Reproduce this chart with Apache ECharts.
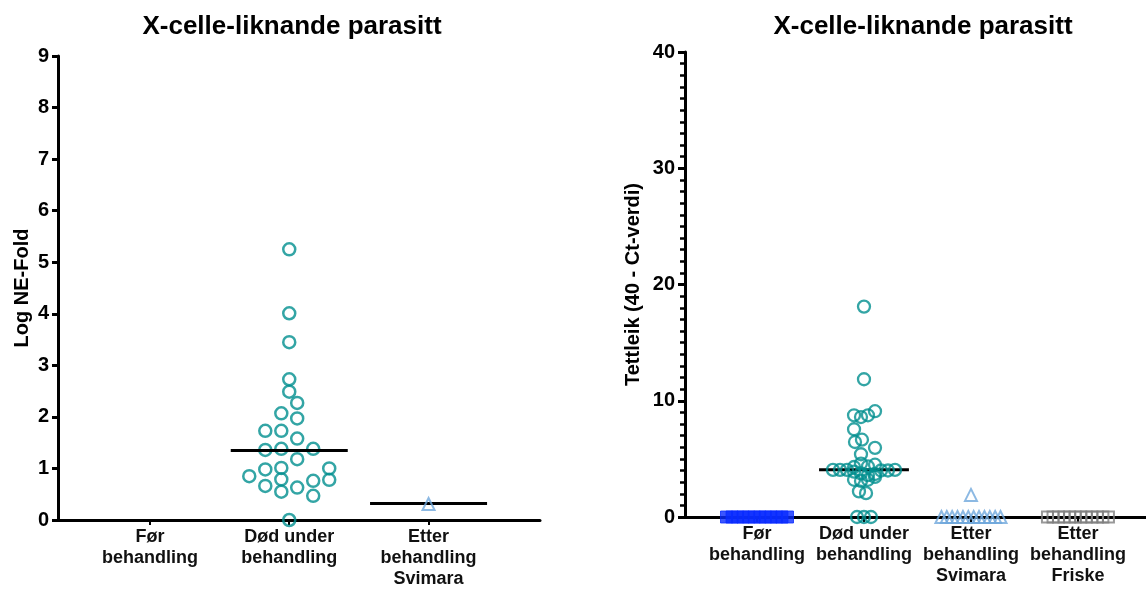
<!DOCTYPE html>
<html>
<head>
<meta charset="utf-8">
<script src="https://cdn.jsdelivr.net/npm/echarts/dist/echarts.min.js"></script>
<style>
  html, body { margin: 0; padding: 0; background: #fff; }
  #main { width: 1146px; height: 590px; }
</style>
</head>
<body>
<div id="main"></div>
<script>
// categories
var leftCategories = ['Før\nbehandling', 'Død under\nbehandling', 'Etter\nbehandling\nSvimara'];
var rightCategories = ['Før\nbehandling', 'Død under\nbehandling', 'Etter\nbehandling\nSvimara', 'Etter\nbehandling\nFriske'];

// left panel: Log NE-Fold
var leftDodValues = [5.25, 4.01, 3.45, 2.73, 2.49, 2.27, 2.07, 1.97, 1.73, 1.73, 1.58, 1.36, 1.38, 1.38, 1.18, 0.98, 1.01, 1.00, 0.85, 0.79, 0.78, 0.66, 0.63, 0.76, 0.55, 0.47, 0];
var leftDodOffsets = [0, 0, 0, 0, 0, 0.057, -0.057, 0.057, -0.172, -0.057, 0.057, -0.172, -0.057, 0.172, 0.057, -0.172, -0.057, 0.287, -0.287, -0.057, 0.287, -0.172, 0.057, 0.172, -0.057, 0.172, 0];
var leftSvimaraValues = [0.31];
var leftSvimaraOffsets = [0];
var leftMedians = [null, 1.35, 0.32];

// right panel: Tettleik (40 - Ct-verdi)
var rightForValues = [0, 0, 0, 0, 0, 0, 0, 0, 0, 0, 0, 0];
var rightForOffsets = [-0.285, -0.233, -0.182, -0.13, -0.078, -0.026, 0.026, 0.078, 0.13, 0.182, 0.233, 0.285];
var rightDodValues = [18.1, 11.85, 9.1, 8.75, 8.6, 8.75, 7.55, 6.65, 6.45, 5.95, 5.4, 4.6, 4.5, 4.35, 4.3, 4.05, 4.05, 4.05, 4.0, 4.0, 4.05, 3.75, 3.6, 3.9, 3.7, 3.2, 3.1, 3.2, 3.45, 2.2, 2.05, 0, 0, 0];
var rightDodOffsets = [0, 0, 0.103, 0.037, -0.028, -0.093, -0.093, -0.019, -0.084, 0.103, -0.028, -0.028, 0.103, 0.037, -0.093, -0.29, -0.224, -0.159, 0.159, 0.224, 0.29, -0.028, 0.037, -0.093, 0.103, -0.093, -0.028, 0.037, 0.103, -0.047, 0.019, -0.065, 0, 0.065];
var rightSvimaraValues = [1.9, 0, 0, 0, 0, 0, 0, 0, 0, 0, 0, 0, 0];
var rightSvimaraOffsets = [0, -0.276, -0.226, -0.176, -0.126, -0.075, -0.025, 0.025, 0.075, 0.126, 0.176, 0.226, 0.276];
var rightFriskeValues = [0, 0, 0, 0, 0, 0, 0, 0, 0, 0, 0, 0];
var rightFriskeOffsets = [-0.285, -0.233, -0.182, -0.13, -0.078, -0.026, 0.026, 0.078, 0.13, 0.182, 0.233, 0.285];
var rightMedians = [0, 4.07, 0, 0];

var teal = '#008e8e';
var fontFam = '"Liberation Sans", Arial, sans-serif';

function points(catIndex, values, offsets) {
    return values.map(function (v, i) { return [catIndex + 1 + offsets[i], v]; });
}
function medianLine(catIndex, m) {
    return [[catIndex + 1 - 0.42, m], [catIndex + 1 + 0.42, m]];
}

var chart = echarts.init(document.getElementById('main'));

function xAxisFor(gridIndex, cats, min, max) {
    return {
        type: 'value', gridIndex: gridIndex, min: min, max: max,
        splitLine: { show: false },
        axisLine: { show: true, onZero: false, lineStyle: { color: '#000', width: 3 } },
        axisTick: { show: true, customValues: cats.map(function (c, i) { return i + 1; }), length: 5, lineStyle: { color: '#000', width: 2 } },
        axisLabel: {
            customValues: cats.map(function (c, i) { return i + 1; }),
            formatter: function (v) { return cats[Math.round(v) - 1] || ''; },
            margin: 7, color: '#111', fontFamily: fontFam, fontWeight: 'bold', fontSize: 18, lineHeight: 21
        }
    };
}

var option = {
    animation: false,
    title: [
        { text: 'X-celle-liknande parasitt', left: 287, top: 9, textAlign: 'center',
          textStyle: { fontFamily: fontFam, fontWeight: 'bold', fontSize: 26, color: '#000' } },
        { text: 'X-celle-liknande parasitt', left: 918, top: 9, textAlign: 'center',
          textStyle: { fontFamily: fontFam, fontWeight: 'bold', fontSize: 26, color: '#000' } }
    ],
    grid: [
        { left: 58, top: 56, width: 482, height: 464 },
        { left: 685, top: 52, width: 461, height: 465 }
    ],
    xAxis: [
        xAxisFor(0, leftCategories, 0.34, 3.8),
        xAxisFor(1, rightCategories, 0.327, 4.636)
    ],
    yAxis: [
        {
            type: 'value', gridIndex: 0, min: 0, max: 9, interval: 1,
            name: 'Log NE-Fold', nameLocation: 'middle', nameGap: 26, nameRotate: 90,
            nameTextStyle: { fontFamily: fontFam, fontWeight: 'bold', fontSize: 20, color: '#000' },
            splitLine: { show: false },
            axisLine: { show: true, onZero: false, lineStyle: { color: '#000', width: 3 } },
            axisTick: { show: true, length: 6, lineStyle: { color: '#000', width: 3 } },
            axisLabel: { margin: 9, color: '#000', fontFamily: fontFam, fontWeight: 'bold', fontSize: 20 }
        },
        {
            type: 'value', gridIndex: 1, min: 0, max: 40, interval: 10,
            name: 'Tettleik (40 - Ct-verdi)', nameLocation: 'middle', nameGap: 42, nameRotate: 90,
            nameTextStyle: { fontFamily: fontFam, fontWeight: 'bold', fontSize: 20, color: '#000' },
            splitLine: { show: false },
            axisLine: { show: true, onZero: false, lineStyle: { color: '#000', width: 3 } },
            axisTick: { show: true, length: 7, lineStyle: { color: '#000', width: 3 } },
            minorTick: { show: true, splitNumber: 10, length: 5, lineStyle: { color: '#000', width: 2.5 } },
            axisLabel: { margin: 10, color: '#000', fontFamily: fontFam, fontWeight: 'bold', fontSize: 20 }
        }
    ],
    series: [
        // left
        { type: 'scatter', xAxisIndex: 0, yAxisIndex: 0, symbol: 'circle', symbolSize: 12,
          itemStyle: { color: 'rgba(0,0,0,0)', borderColor: teal, borderWidth: 2.5 },
          data: points(1, leftDodValues, leftDodOffsets) },
        { type: 'scatter', xAxisIndex: 0, yAxisIndex: 0, symbol: 'triangle', symbolSize: 12,
          itemStyle: { color: 'rgba(0,0,0,0)', borderColor: '#6fa8dc', borderWidth: 2 },
          data: points(2, leftSvimaraValues, leftSvimaraOffsets) },
        { type: 'line', xAxisIndex: 0, yAxisIndex: 0, symbol: 'none', z: 5,
          lineStyle: { color: '#000', width: 3 }, data: medianLine(1, leftMedians[1]) },
        { type: 'line', xAxisIndex: 0, yAxisIndex: 0, symbol: 'none', z: 1,
          lineStyle: { color: '#000', width: 3 }, data: medianLine(2, leftMedians[2]) },
        // right
        { type: 'line', xAxisIndex: 1, yAxisIndex: 1, symbol: 'none', z: 1,
          lineStyle: { color: '#000', width: 3 }, data: medianLine(1, rightMedians[1]) },
        { type: 'scatter', xAxisIndex: 1, yAxisIndex: 1, symbol: 'rect', symbolSize: 12, z: 3,
          itemStyle: { color: '#0a2cff', borderColor: '#0a2cff', borderWidth: 1 },
          data: points(0, rightForValues, rightForOffsets) },
        { type: 'scatter', xAxisIndex: 1, yAxisIndex: 1, symbol: 'circle', symbolSize: 12, z: 3,
          itemStyle: { color: 'rgba(0,0,0,0)', borderColor: teal, borderWidth: 2.3 },
          data: points(1, rightDodValues, rightDodOffsets) },
        { type: 'scatter', xAxisIndex: 1, yAxisIndex: 1, symbol: 'triangle', symbolSize: 12, z: 3,
          itemStyle: { color: 'rgba(0,0,0,0)', borderColor: '#6fa8dc', borderWidth: 2 },
          data: points(2, rightSvimaraValues, rightSvimaraOffsets) },
        { type: 'scatter', xAxisIndex: 1, yAxisIndex: 1, symbol: 'rect', symbolSize: 11, z: 3,
          itemStyle: { color: 'rgba(0,0,0,0)', borderColor: '#808080', borderWidth: 2 },
          data: points(3, rightFriskeValues, rightFriskeOffsets) }
    ]
};
chart.setOption(option);
</script>
</body>
</html>
